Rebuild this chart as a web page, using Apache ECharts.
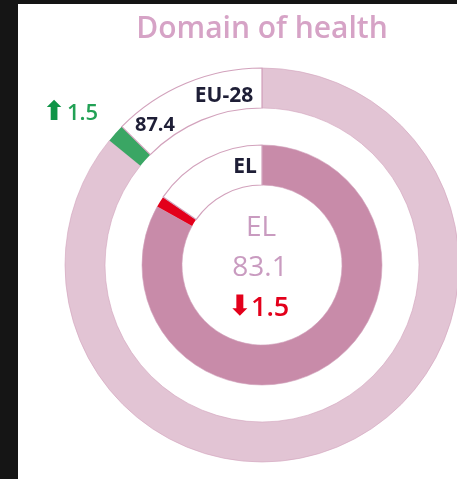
<!DOCTYPE html>
<html lang="en">
<head>
<meta charset="UTF-8">
<title>Domain of health</title>
<style>
  *{ margin:0; }
  html,body{ height:100%; background:#151515; }
  #chart{ width:457px; height:479px; }
</style>
<script src="https://cdn.jsdelivr.net/npm/echarts@6/dist/echarts.min.js"></script>
</head>
<body>
<div id="chart"></div>
<script>
  // scores for the domain of health
  const labels = ['EU-28', 'EL'];
  const scores = [87.4, 83.1];
  const changes = [1.5, -1.5];

  const pink = ['#e2c4d4', '#c88ba9'];
  const border = '#d2a2bc';

  // ring = score so far, a small block for the change, rest white
  function ringData(i) {
    let s = scores[i], c = changes[i];
    let base = c > 0 ? s - c : s;
    let gap = 100 - base - Math.abs(c);
    return [
      { value: +base.toFixed(1), itemStyle: { color: pink[i], borderWidth: 0.6 } },
      { value: Math.abs(c), itemStyle: { color: c > 0 ? '#3aa664' : '#e3001b', borderWidth: 0 } },
      { value: +gap.toFixed(1), itemStyle: { color: '#ffffff' } }
    ];
  }

  const font = '"Open Sans", "Noto Sans", sans-serif';
  function txt(x, y, text, fill, f, align) {
    return { type: 'text', z: 100, x: x, y: y,
      style: { text: text, fill: fill, font: f, align: align || 'center', verticalAlign: 'middle' } };
  }

  let chart = echarts.init(document.getElementById('chart'));
  chart.setOption({
    backgroundColor: '#151515',
    animation: false,
    graphic: [
      { type: 'rect', z: -1, shape: { x: 18, y: 4, width: 439, height: 475 }, style: { fill: '#ffffff' } },
      txt(262, 29, 'Domain of health', '#d6a3c6', '600 30px ' + font),
      txt(224, 96, labels[0], '#1e1e36', '700 21px ' + font),
      txt(155, 125, scores[0].toFixed(1), '#1e1e36', '700 20px ' + font),
      txt(54, 113, '⬆', '#0f9447', '700 27px "DejaVu Sans"'),
      txt(67, 114, changes[0].toFixed(1), '#22a155', '600 22px ' + font, 'left'),
      txt(245, 167, labels[1], '#1e1e36', '700 21px ' + font),
      txt(261, 228, labels[1], '#c99bc0', '400 28px ' + font),
      txt(260, 268, scores[1].toFixed(1), '#c99bc0', '400 28px ' + font),
      txt(240, 308, '⬇', '#e3001b', '700 28px "DejaVu Sans"'),
      txt(251, 308, Math.abs(changes[1]).toFixed(1), '#e3001b', '600 27px ' + font, 'left')
    ],
    series: [
      {
        type: 'pie',
        center: [262, 265],
        radius: [157, 197],
        startAngle: 90,
        clockwise: true,
        silent: true,
        label: { show: false },
        itemStyle: { borderColor: border, borderWidth: 1.2 },
        data: ringData(0)
      },
      {
        type: 'pie',
        center: [262, 265],
        radius: [80, 120],
        startAngle: 90,
        clockwise: true,
        silent: true,
        label: { show: false },
        itemStyle: { borderColor: border, borderWidth: 1.2 },
        data: ringData(1)
      }
    ]
  });
</script>
</body>
</html>
